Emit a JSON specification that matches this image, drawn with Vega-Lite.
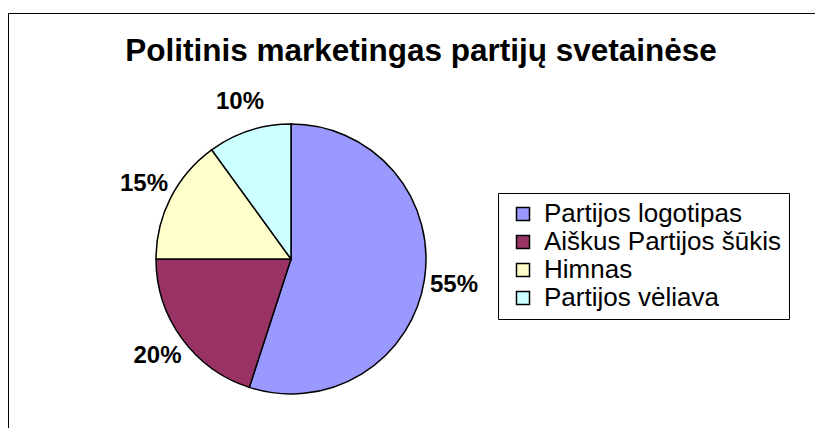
{
  "$schema": "https://vega.github.io/schema/vega-lite/v6.json",
  "autosize": "none",
  "width": 566,
  "height": 338,
  "padding": {"left": 8, "top": 90, "right": 241, "bottom": 0},
  "background": "white",
  "config": {"view": {"stroke": null}},
  "title": {
    "text": "Politinis marketingas partijų svetainėse",
    "font": "Liberation Sans",
    "fontSize": 31.5,
    "fontWeight": "bold",
    "color": "black",
    "anchor": "middle",
    "frame": "group",
    "orient": "top",
    "offset": 0,
    "baseline": "alphabetic",
    "dx": 130,
    "dy": 79
  },
  "data": {
    "values": [
      {"label": "Partijos logotipas", "share": 0.55, "idx": 1},
      {"label": "Aiškus Partijos šūkis", "share": 0.20, "idx": 2},
      {"label": "Himnas", "share": 0.15, "idx": 3},
      {"label": "Partijos vėliava", "share": 0.10, "idx": 4}
    ]
  },
  "layer": [
    {
      "mark": {"type": "point", "opacity": 0},
      "encoding": {
        "x": {
          "field": "share", "type": "quantitative",
          "scale": {"range": [0, 807], "zero": true},
          "axis": {"orient": "top", "offset": 77, "domain": true, "domainColor": "black", "domainWidth": 1, "ticks": false, "labels": false, "grid": false, "title": null}
        },
        "y": {
          "field": "idx", "type": "quantitative",
          "scale": {"range": [-77, 338], "zero": true},
          "axis": {"orient": "left", "domain": true, "domainColor": "black", "domainWidth": 1, "ticks": false, "labels": false, "grid": false, "title": null}
        }
      }
    },
    {
      "mark": {"type": "arc", "outerRadius": 135, "stroke": "black", "strokeWidth": 1.5},
      "encoding": {
        "theta": {"field": "share", "type": "quantitative", "stack": true},
        "order": {"field": "idx", "type": "quantitative"},
        "color": {
          "field": "label", "type": "nominal",
          "scale": {
            "domain": ["Partijos logotipas", "Aiškus Partijos šūkis", "Himnas", "Partijos vėliava"],
            "range": ["#9999FF", "#993366", "#FFFFCC", "#CCFFFF"]
          },
          "legend": {
            "title": null,
            "orient": "none",
            "legendX": 490,
            "legendY": 103,
            "padding": 8,
            "rowPadding": 2,
            "strokeColor": "black",
            "fillColor": "white",
            "symbolType": "square",
            "symbolSize": 169,
            "symbolStrokeColor": "black",
            "symbolStrokeWidth": 1.5,
            "symbolOpacity": 1,
            "symbolOffset": 4,
            "labelOffset": 8,
            "labelFont": "Liberation Sans",
            "labelFontSize": 26,
            "labelColor": "black",
            "labelLimit": 400
          }
        }
      }
    },
    {
      "mark": {"type": "text", "radius": 165, "font": "Liberation Sans", "fontSize": 24, "fontWeight": "bold", "color": "black", "align": "center", "baseline": "middle"},
      "encoding": {
        "theta": {"field": "share", "type": "quantitative", "stack": true},
        "order": {"field": "idx", "type": "quantitative"},
        "text": {"field": "share", "type": "quantitative", "format": ".0%"}
      }
    }
  ]
}
